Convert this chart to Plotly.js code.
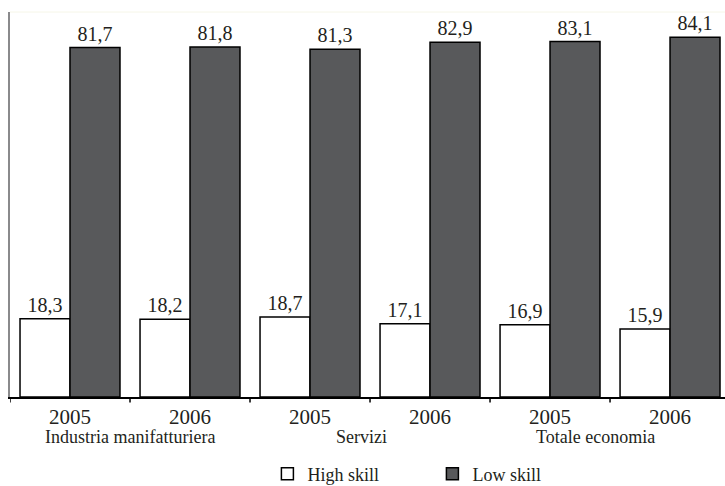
<!DOCTYPE html>
<html>
<head>
<meta charset="utf-8">
<script src="https://cdn.plot.ly/plotly-3.0.1.min.js"></script>
<style>html,body{margin:0;padding:0;background:#fff;}#chart{width:725px;height:486px;}</style>
</head>
<body>
<div id="chart"></div>
<script>
const yearLabels = ["2005", "2006", "2005", "2006", "2005", "2006"];
const sectors = ["Industria manifatturiera", "Servizi", "Totale economia"];
const highSkill = [18.3, 18.2, 18.7, 17.1, 16.9, 15.9];
const lowSkill = [81.7, 81.8, 81.3, 82.9, 83.1, 84.1];
const seriesNames = ["High skill", "Low skill"];

const idx = yearLabels.map((_, i) => i);
const fmt = v => v.toFixed(1).replace(".", ",");
const FONT = "'Liberation Serif', 'Times New Roman', 'DejaVu Serif', serif";

const traces = [
  {
    type: "bar", name: seriesNames[0], x: idx, y: highSkill,
    text: highSkill.map(fmt), textposition: "outside", cliponaxis: false,
    textfont: {family: FONT, size: 20, color: "#231f20"},
    marker: {color: "#ffffff", line: {color: "#000000", width: 1.5}},
    hoverinfo: "none"
  },
  {
    type: "bar", name: seriesNames[1], x: idx, y: lowSkill,
    text: lowSkill.map(fmt), textposition: "outside", cliponaxis: false,
    textfont: {family: FONT, size: 20, color: "#231f20"},
    marker: {color: "#58595b", line: {color: "#000000", width: 1.5}},
    hoverinfo: "none"
  }
];

const sectorX = [0.5, 2.43, 4.375];
const annotations = sectors.map((s, i) => ({
  text: s, x: sectorX[i], xref: "x", y: -0.104, yref: "paper",
  xanchor: "center", yanchor: "middle", showarrow: false,
  font: {family: FONT, size: 18, color: "#231f20"}
}));

const layout = {
  width: 725, height: 486,
  margin: {l: 10, r: 0, t: 12, b: 89, pad: 0, autoexpand: false},
  paper_bgcolor: "#ffffff", plot_bgcolor: "#ffffff",
  barmode: "group", bargap: 0.167, bargroupgap: 0,
  font: {family: FONT, color: "#231f20"},
  xaxis: {
    type: "linear", range: [-0.5, 5.458],
    tickmode: "array", tickvals: idx, ticktext: yearLabels,
    showgrid: false, zeroline: false,
    showline: true, linecolor: "#000000", linewidth: 1.5,
    ticks: "", tickfont: {family: FONT, size: 21, color: "#231f20"},
    automargin: false, fixedrange: true
  },
  yaxis: {
    range: [0, 90], showgrid: false, zeroline: false,
    showline: true, linecolor: "#8a8a8c", linewidth: 2,
    showticklabels: false, ticks: "", automargin: false, fixedrange: true
  },
  shapes: [
    {type: "line", xref: "paper", yref: "paper", x0: 0, x1: 1, y0: 1, y1: 1,
     line: {color: "#f6f6e8", width: 1}}
  ].concat([-0.5, 0.5, 1.5, 2.5, 3.5, 4.5].map(v => ({
     type: "line", xref: "x", yref: "paper", x0: v, x1: v, y0: 0, y1: -0.014,
     line: {color: "#000000", width: 1.5}
  }))),
  annotations: annotations,
  showlegend: true,
  legend: {
    orientation: "h", x: 0.36, xanchor: "left", y: -0.2, yanchor: "middle",
    font: {family: FONT, size: 18, color: "#231f20"},
    entrywidth: 120, entrywidthmode: "pixels",
    itemclick: false, itemdoubleclick: false, bgcolor: "rgba(0,0,0,0)"
  }
};

Plotly.newPlot("chart", traces, layout, {displayModeBar: false, staticPlot: true});
</script>
</body>
</html>
